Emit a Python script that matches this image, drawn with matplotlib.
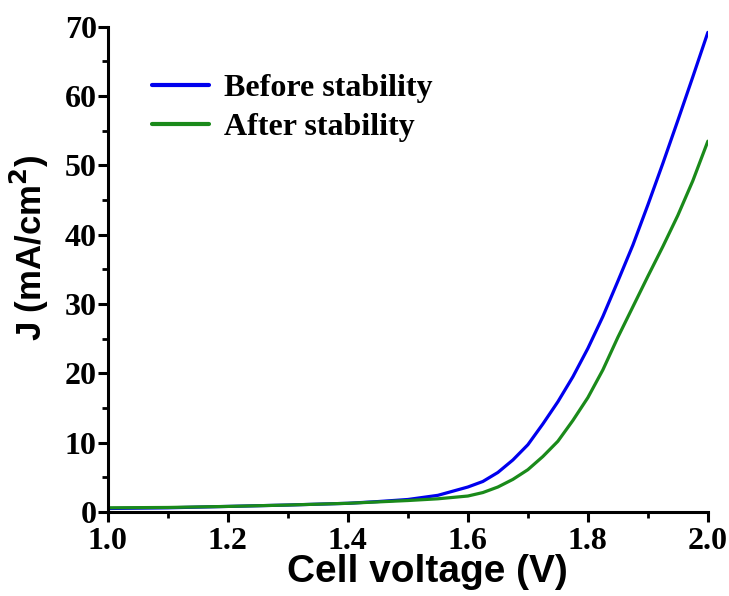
import matplotlib
matplotlib.use("Agg")
import matplotlib.pyplot as plt
from matplotlib.ticker import MultipleLocator

voltage = [1.0, 1.1, 1.2, 1.3, 1.4, 1.45, 1.5, 1.55, 1.6, 1.625, 1.65, 1.675, 1.7,
           1.725, 1.75, 1.775, 1.8, 1.825, 1.85, 1.875, 1.9, 1.925, 1.95, 1.975, 2.0]
j_before = [0.5, 0.6, 0.8, 1.0, 1.25, 1.5, 1.8, 2.4, 3.6, 4.4, 5.7, 7.5, 9.7,
            12.7, 15.9, 19.5, 23.6, 28.2, 33.3, 38.5, 44.3, 50.3, 56.5, 62.8, 69.2]
j_after = [0.6, 0.65, 0.8, 1.0, 1.25, 1.45, 1.65, 1.9, 2.3, 2.8, 3.6, 4.7, 6.1,
           8.0, 10.2, 13.2, 16.5, 20.5, 25.2, 29.6, 34.0, 38.3, 42.8, 47.8, 53.5]
labels = ["Before stability", "After stability"]
colors = ["#0000ee", "#1a8a1a"]

fig = plt.figure(figsize=(7.29, 5.96), dpi=100)
ax = fig.add_axes([0.148, 0.141, 0.823, 0.814])

ax.plot(voltage, j_before, color=colors[0], lw=2.3, label=labels[0],
        solid_joinstyle="round", solid_capstyle="round")
ax.plot(voltage, j_after, color=colors[1], lw=2.3, label=labels[1],
        solid_joinstyle="round", solid_capstyle="round")

ax.set_xlim(1.0, 2.0)
ax.set_ylim(0, 70)
ax.xaxis.set_major_locator(MultipleLocator(0.2))
ax.xaxis.set_minor_locator(MultipleLocator(0.1))
ax.yaxis.set_major_locator(MultipleLocator(10))
ax.yaxis.set_minor_locator(MultipleLocator(5))

for s in ["top", "right"]:
    ax.spines[s].set_visible(False)
for s in ["left", "bottom"]:
    ax.spines[s].set_linewidth(2.2)

ax.tick_params(which="major", direction="out", length=7, width=2.2)
ax.tick_params(which="minor", direction="out", length=4, width=2)
for lab in ax.get_xticklabels() + ax.get_yticklabels():
    lab.set_fontfamily("Liberation Serif")
    lab.set_fontweight("bold")
    lab.set_fontsize(23)
ax.tick_params(axis="x", pad=4)
ax.tick_params(axis="y", pad=1)

xl = ax.set_xlabel("Cell voltage (V)", fontfamily="Liberation Sans", fontweight="bold",
                   fontsize=28)
xl.set_verticalalignment("center")
ax.xaxis.set_label_coords(0.532, -0.124)
yl = ax.set_ylabel("J (mA/cm$^\\mathbf{2}$)", fontfamily="Liberation Sans",
                   fontweight="bold", fontsize=25)
yl.set_verticalalignment("center")
ax.yaxis.set_label_coords(-0.13, 0.544)

leg = ax.legend(loc="upper left", bbox_to_anchor=(0.073, 0.904), frameon=False,
                prop={"family": "Liberation Serif", "weight": "bold", "size": 23},
                handlelength=1.8, handletextpad=0.47, labelspacing=0.31,
                borderpad=0, borderaxespad=0)
for line in leg.get_lines():
    line.set_linewidth(3)

fig.savefig("out.png", dpi=100, facecolor="white")
